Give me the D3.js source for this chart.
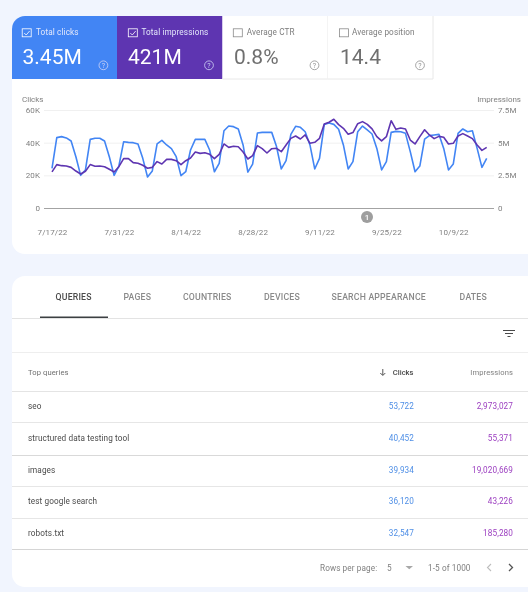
<!DOCTYPE html>
<html><head><meta charset="utf-8">
<script src="https://cdn.jsdelivr.net/npm/d3@7"></script>
<style>
html,body{margin:0;padding:0;background:#f1f5fe;overflow:hidden}
svg{display:block;filter:blur(.3px)}
text{font-family:Roboto,sans-serif}
</style></head><body>
<svg id="c" width="528" height="592"></svg>
<script>
const clicksK=[24.3,43.1,43.7,42.9,41.0,31.4,20.0,23.3,42.0,42.7,42.7,41.0,31.4,20.0,25.7,40.6,40.2,40.0,39.2,30.4,19.0,22.7,39.2,41.4,38.6,36.3,31.4,19.8,22.2,35.5,42.0,42.0,42.0,35.5,22.2,27.3,47.3,50.2,49.8,48.4,38.6,22.0,26.9,45.9,46.3,46.3,46.3,37.6,23.9,29.0,45.1,50.0,49.4,46.7,38.6,23.9,30.4,51.2,52.0,51.2,48.2,38.6,23.9,28.4,46.7,50.2,47.8,45.3,36.5,23.3,28.4,46.3,46.9,46.7,45.7,34.5,22.2,25.7,42.2,44.3,44.7,45.1,36.5,23.3,26.9,45.7,48.4,46.7,47.3,36.5,24.9,30.4];
const impressionsM=[2.76,3.32,3.24,3.21,3.11,2.83,2.60,2.81,3.32,3.19,3.21,3.16,2.96,2.76,3.16,3.78,3.78,3.47,3.42,3.27,3.04,3.11,3.55,3.37,3.72,3.72,3.62,3.32,3.62,3.83,4.29,4.18,4.23,4.11,3.78,4.11,4.90,4.64,4.72,4.69,4.29,3.75,4.01,4.77,4.54,4.21,4.54,4.57,4.31,4.82,5.33,5.51,5.28,5.59,4.95,5.03,5.33,6.43,6.56,6.79,6.38,6.10,5.64,5.77,6.45,6.61,6.40,6.05,5.46,5.13,5.46,6.68,6.02,6.12,6.05,5.20,4.90,5.46,5.99,5.59,5.31,5.48,5.41,4.90,4.95,5.51,5.69,5.51,5.31,4.82,4.41,4.64];
const startDate=new Date(2022,6,17);
const xTickDates=["2022-07-17","2022-07-31","2022-08-14","2022-08-28","2022-09-11","2022-09-25","2022-10-09"];
const xTickLabels=["7/17/22","7/31/22","8/14/22","8/28/22","9/11/22","9/25/22","10/9/22"];
const leftTicks=[0,20,40,60];
const leftLabels=["0","20K","40K","60K"];
const rightTicks=[0,2.5,5,7.5];
const rightLabels=["0","2.5M","5M","7.5M"];
const metricNames=["Total clicks","Total impressions","Average CTR","Average position"];
const metricValues=["3.45M","421M","0.8%","14.4"];
const tabNames=["QUERIES","PAGES","COUNTRIES","DEVICES","SEARCH APPEARANCE","DATES"];
const queries=["seo","structured data testing tool","images","test google search","robots.txt"];
const queryClicks=["53,722","40,452","39,934","36,120","32,547"];
const queryImpressions=["2,973,027","55,371","19,020,669","43,226","185,280"];

const svg=d3.select("#c");
const BLUE="#4285f4",PURPLE="#5e35b1";
const card=(x,y,w,h)=>svg.append("rect").attr("x",x).attr("y",y).attr("width",w).attr("height",h).attr("rx",13).attr("fill","#fff");
card(12,16,540,238);
card(12,276,540,311);

// metric tiles
const tileX=[12,117,222.5,327.5],tileW=[105,105.5,105,105.5];
const tileFill=[BLUE,PURPLE,"#fff","#fff"];
const boxX=[22.2,128.3,233.3,339.4],labelX=[36,141.4,246.8,352],valueX=[22.5,128,234,340],helpX=[103.4,209,314.5,420];
metricNames.forEach((n,i)=>{
  const on=i<2,x=tileX[i];
  if(i===0){
    svg.append("path").attr("d",`M12 79V29a13 13 0 0 1 13-13H117V79Z`).attr("fill",BLUE);
  }else{
    svg.append("rect").attr("x",x).attr("y",16).attr("width",tileW[i]).attr("height",63).attr("fill",tileFill[i]);
  }
  if(!on){
    svg.append("line").attr("x1",x+tileW[i]).attr("x2",x+tileW[i]).attr("y1",16).attr("y2",79).attr("stroke","#e8e8e8");
    svg.append("line").attr("x1",x).attr("x2",x+tileW[i]).attr("y1",79).attr("y2",79).attr("stroke","#e8e8e8");
  }
  const bx=boxX[i];
  svg.append("rect").attr("x",bx).attr("y",28.8).attr("width",9).attr("height",8).attr("fill","none").attr("stroke",on?"#fff":"#8a8a8a").attr("stroke-width",.8);
  if(on) svg.append("path").attr("d",`M${bx+2} 33l2 2l3.4-4`).attr("fill","none").attr("stroke","#fff").attr("stroke-width",.8);
  svg.append("text").attr("x",labelX[i]).attr("y",35.2).attr("font-size",8.2).attr("letter-spacing",.12).attr("fill",on?"#e4e8fb":"#7d7d7d").text(n);
  svg.append("text").attr("x",valueX[i]).attr("y",64).attr("font-size",21).attr("fill",on?"#fff":"#6f6f6f").text(metricValues[i]);
  svg.append("circle").attr("cx",helpX[i]).attr("cy",65.3).attr("r",4.4).attr("fill","none").attr("stroke",on?"#cfd3f5":"#8f8f8f").attr("stroke-width",.8);
  svg.append("text").attr("x",helpX[i]).attr("y",67.8).attr("text-anchor","middle").attr("font-size",7).attr("fill",on?"#cfd3f5":"#8f8f8f").text("?");
});

// chart
const plot={l:44,r:494,top:110,base:208};
const dateAt=i=>d3.timeDay.offset(startDate,i);
const x=d3.scaleTime().domain([startDate,dateAt(91)]).range([52,486.7]);
const yL=d3.scaleLinear().domain([0,60]).range([plot.base,plot.top]);
const yR=d3.scaleLinear().domain([0,7.5]).range([plot.base,plot.top]);
const parse=d3.timeParse("%Y-%m-%d");

const gridG=svg.append("g");
leftTicks.forEach(t=>gridG.append("line").attr("x1",plot.l).attr("x2",plot.r).attr("y1",yL(t)+.5).attr("y2",yL(t)+.5)
  .attr("stroke",t===0?"#a3a3a3":"#f0f0f0").attr("stroke-width",1));

const style=g=>{g.select(".domain").remove();g.selectAll(".tick line").remove();
  g.selectAll("text").attr("font-size",8).attr("fill","#7f7f7f").attr("letter-spacing",.1);};
svg.append("g").attr("transform",`translate(${plot.l-1},0)`)
  .call(d3.axisLeft(yL).tickValues(leftTicks).tickSize(0).tickPadding(3).tickFormat((d,i)=>leftLabels[i])).call(style);
svg.append("g").attr("transform",`translate(${plot.r+1},0)`)
  .call(d3.axisRight(yR).tickValues(rightTicks).tickSize(0).tickPadding(3).tickFormat((d,i)=>rightLabels[i])).call(style);
svg.append("g").attr("transform",`translate(0,229)`)
  .call(d3.axisBottom(x).tickValues(xTickDates.map(parse)).tickSize(0).tickPadding(0).tickFormat((d,i)=>xTickLabels[i])).call(style);

svg.append("text").attr("x",22).attr("y",102).attr("font-size",8).attr("fill","#7f7f7f").text("Clicks");
svg.append("text").attr("x",521).attr("y",102).attr("text-anchor","end").attr("font-size",8).attr("fill","#7f7f7f").text("Impressions");

const lineL=d3.line().x((d,i)=>x(dateAt(i))).y(d=>yL(d));
const lineR=d3.line().x((d,i)=>x(dateAt(i))).y(d=>yR(d));
svg.append("path").attr("d",lineL(clicksK)).attr("fill","none").attr("stroke",BLUE).attr("stroke-width",1.6).attr("stroke-linejoin","round");
svg.append("path").attr("d",lineR(impressionsM)).attr("fill","none").attr("stroke",PURPLE).attr("stroke-width",1.6).attr("stroke-linejoin","round");

svg.append("circle").attr("cx",367).attr("cy",217).attr("r",6).attr("fill","#9e9e9e");
svg.append("text").attr("x",367).attr("y",220).attr("text-anchor","middle").attr("font-size",8).attr("font-weight",500).attr("fill","#fff").text("1");

// tabs
const tabX=[55.6,123.5,183,264,331.6,459.6];
tabNames.forEach((t,i)=>svg.append("text").attr("x",tabX[i]).attr("y",300).attr("font-size",8.7).attr("font-weight",500)
  .attr("letter-spacing",.2).attr("fill",i===0?"#4a4a4a":"#8a8a8a").text(t));
svg.append("rect").attr("x",40).attr("y",316.5).attr("width",68).attr("height",1.5).attr("fill","#3c4043");

const hr=[[318.5,"#e3e3e3"],[352.5,"#eeeeee"],[391.5,"#e4e4e4"],[422.5,"#e6e6e6"],[455.5,"#d9d9d9"],[486.5,"#e6e6e6"],[518.5,"#e6e6e6"],[549.5,"#d5d5d5"]];
hr.forEach(([y,c])=>svg.append("line").attr("x1",12).attr("x2",528).attr("y1",y).attr("y2",y).attr("stroke",c));

// filter icon
svg.append("path").attr("d","M503 330.5h12M505 333.5h8M507.5 336.5h3").attr("fill","none").attr("stroke","#4a4a4a").attr("stroke-width",1.1);

// header
svg.append("text").attr("x",28).attr("y",375).attr("font-size",7.6).attr("letter-spacing",.1).attr("fill","#6f6f6f").text("Top queries");
svg.append("path").attr("d","M382.8 369v6M380.3 373l2.5 2.5l2.5-2.5").attr("fill","none").attr("stroke","#444").attr("stroke-width",.9);
svg.append("text").attr("x",413.5).attr("y",375).attr("text-anchor","end").attr("font-size",7.6).attr("font-weight",500).attr("fill","#4a4a4a").text("Clicks");
svg.append("text").attr("x",513).attr("y",375).attr("text-anchor","end").attr("font-size",7.6).attr("letter-spacing",.1).attr("fill","#7f7f7f").text("Impressions");

// rows
const rowY=d3.scalePoint().domain(queries).range([409,536]);
queries.forEach((q,i)=>{
  const y=rowY(q);
  svg.append("text").attr("x",28).attr("y",y).attr("font-size",8.2).attr("letter-spacing",.1).attr("fill","#4a4a4a").text(q);
  svg.append("text").attr("x",414).attr("y",y).attr("text-anchor","end").attr("font-size",8.2).attr("letter-spacing",.1).attr("fill","#4f8fe6").text(queryClicks[i]);
  svg.append("text").attr("x",513).attr("y",y).attr("text-anchor","end").attr("font-size",8.2).attr("letter-spacing",.1).attr("fill","#9c3fc0").text(queryImpressions[i]);
});

// pagination
const pag=(x,t)=>svg.append("text").attr("x",x).attr("y",570.7).attr("font-size",8.2).attr("letter-spacing",.1).attr("fill","#7f7f7f").text(t);
pag(320,"Rows per page:");pag(387,"5");pag(428,"1-5 of 1000");
svg.append("path").attr("d","M405.5 566h7.5l-3.75 3.2Z").attr("fill","#a8a8a8");
svg.append("path").attr("d","M491 564l-3.5 3.5l3.5 3.5").attr("fill","none").attr("stroke","#bdbdbd").attr("stroke-width",1.1);
svg.append("path").attr("d","M509 564l3.5 3.5l-3.5 3.5").attr("fill","none").attr("stroke","#555").attr("stroke-width",1.3);
</script>
</body></html>
